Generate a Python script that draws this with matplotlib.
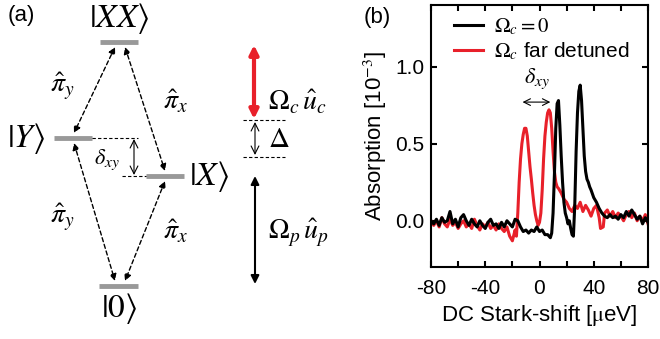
import matplotlib
matplotlib.use("Agg")
import matplotlib.pyplot as plt
from matplotlib.ticker import MultipleLocator, FormatStrFormatter

plt.rcParams["font.family"] = ["Liberation Sans", "DejaVu Sans"]
plt.rcParams["mathtext.fontset"] = "stix"
plt.rcParams["axes.unicode_minus"] = False

_red = "#e8202a"

# Panel (b) data: absorption vs DC Stark shift
shift_black = [-80, -78, -76, -74, -72, -70, -68, -66, -64, -62, -60, -58, -56, -54,
               -52, -50, -48, -46, -44, -42, -40, -38, -36, -34, -32, -30, -28, -26,
               -24, -22, -20, -18, -16, -14, -12, -10, -8, -6, -4, -2, 0, 2, 4, 6, 8,
               9, 10, 11, 12, 13, 14, 15, 16, 17, 18, 19, 20, 21, 22, 23, 24, 25, 26,
               27, 28, 29, 30, 31, 32, 33, 34, 35, 36, 37, 38, 40, 42, 44, 46, 48, 50,
               52, 54, 56, 58, 60, 62, 64, 66, 68, 70, 72, 74, 76, 78, 80]
abs_black = [0.0, -0.02, 0.01, -0.03, 0.02, -0.01, 0.0, 0.06, -0.02, 0.01, -0.04, 0.02,
             0.04, 0.0, -0.03, 0.01, -0.02, -0.04, 0.0, -0.03, -0.05, -0.01, 0.01, -0.03,
             -0.02, -0.05, -0.01, -0.04, 0.0, -0.02, -0.04, 0.01, 0.0, -0.04, -0.07, -0.06,
             -0.08, -0.06, -0.07, -0.04, -0.07, -0.06, -0.09, -0.09, -0.11,
             -0.08, 0.05, 0.3, 0.6, 0.76, 0.78, 0.62, 0.42, 0.25, 0.12, 0.05, 0.02, -0.02,
             0.0, -0.05, -0.09, -0.1, 0.1, 0.45, 0.7, 0.84, 0.88, 0.78, 0.6, 0.42, 0.32,
             0.27, 0.25, 0.22, 0.2, 0.15, 0.12, 0.08, 0.05, 0.03, 0.02, 0.04, 0.02, 0.03,
             0.01, 0.04, 0.02, 0.06, 0.03, 0.07, 0.04, 0.01, 0.03, -0.02, 0.02, -0.01]

shift_red = [-80, -78, -76, -74, -72, -70, -68, -66, -64, -62, -60, -58, -56, -54, -52,
             -50, -48, -46, -44, -42, -40, -38, -36, -34, -32, -30, -28, -26, -24, -22,
             -20, -18, -17, -16, -15, -14, -13, -12, -11, -10, -9, -8, -7, -6, -5, -4,
             -3, -2, -1, 0, 1, 2, 3, 4, 5, 6, 7, 8, 9, 10, 11, 12, 13, 14, 16, 18, 20,
             22, 24, 26, 28, 30, 32, 34, 36, 38, 40, 42, 44, 45, 47, 48, 50, 52, 54, 56,
             58, 60, 62, 64, 66, 68, 70, 72, 74, 76, 78, 80]
abs_red = [0.0, -0.03, 0.0, -0.04, 0.02, -0.02, -0.04, 0.01, -0.03, -0.01, -0.05, -0.02,
           0.0, -0.04, -0.02, -0.05, 0.01, -0.03, -0.06, -0.02, -0.04, -0.01, -0.05, -0.03,
           -0.06, -0.02, -0.05, -0.07, -0.04, -0.1, -0.13, -0.06, -0.1, 0.05, 0.25, 0.4,
           0.5, 0.56, 0.6, 0.6, 0.55, 0.45, 0.35, 0.27, 0.18, 0.1, 0.04, 0.0, -0.03,
           -0.01, 0.05, 0.2, 0.4, 0.55, 0.64, 0.7, 0.72, 0.7, 0.6, 0.45, 0.32, 0.25, 0.22,
           0.21, 0.18, 0.14, 0.12, 0.08, 0.06, 0.1, 0.08, 0.12, 0.06, 0.1, 0.07, 0.03, 0.08,
           0.1, 0.02, -0.05, -0.04, 0.05, 0.07, 0.03, 0.06, 0.02, 0.05, 0.03, 0.0, 0.04,
           0.06, 0.02, 0.05, 0.0, 0.03, 0.0, 0.04, -0.02]

fig = plt.figure(figsize=(6.6, 3.39), dpi=100)

# ---- Panel (a): level scheme, drawn in pixel coordinates ----
ax0 = fig.add_axes([0, 0, 1, 1])
ax0.set_xlim(0, 660)
ax0.set_ylim(339, 0)
ax0.axis("off")

levels = {"XX": (100, 138, 42), "Y": (54, 92, 138), "X": (146, 184, 176), "0": (99, 138, 286)}
for x0, x1, y in levels.values():
    ax0.plot([x0, x1], [y, y], color="#999999", lw=3.5, solid_capstyle="butt")

ket_size = 24
ax0.text(119, 18, r"$|XX\rangle$", fontsize=ket_size, ha="center", va="center")
ax0.text(26, 138, r"$|Y\rangle$", fontsize=ket_size, ha="center", va="center")
ax0.text(209, 176, r"$|X\rangle$", fontsize=ket_size, ha="center", va="center")
ax0.text(119, 309, r"$|0\rangle$", fontsize=ket_size, ha="center", va="center")
ax0.text(8, 16, "(a)", fontsize=16, ha="left", va="center")

dash = dict(arrowstyle="<|-|>", ls=(0, (3, 2)), color="k", lw=1, mutation_scale=10,
            shrinkA=0, shrinkB=0)
for start, end in [((115, 47), (74, 133)), ((125, 47), (165, 171)),
                   ((74, 143), (115, 281)), ((165, 181), (125, 281))]:
    ax0.annotate("", xy=end, xytext=start, arrowprops=dash)

pi_size = 20
ax0.text(62, 86, r"$\hat{\pi}_y$", fontsize=pi_size, ha="center", va="center")
ax0.text(176, 102, r"$\hat{\pi}_x$", fontsize=pi_size, ha="center", va="center")
ax0.text(62, 217, r"$\hat{\pi}_y$", fontsize=pi_size, ha="center", va="center")
ax0.text(176, 232, r"$\hat{\pi}_x$", fontsize=pi_size, ha="center", va="center")

# splitting delta_xy
ax0.plot([92, 138], [138, 138], color="k", lw=0.8, ls=(0, (3, 2)))
ax0.plot([122, 146], [176, 176], color="k", lw=0.8, ls=(0, (3, 2)))
ax0.annotate("", xy=(134, 175), xytext=(134, 139),
             arrowprops=dict(arrowstyle="<->", color="k", lw=0.8, mutation_scale=14,
                             shrinkA=0, shrinkB=0))
ax0.text(107, 160, r"$\delta_{xy}$", fontsize=16, ha="center", va="center")

# laser fields
ax0.annotate("", xy=(254, 119), xytext=(254, 45),
             arrowprops=dict(arrowstyle="<|-|>", color=_red, lw=3, mutation_scale=13,
                             shrinkA=0, shrinkB=0))
ax0.plot([243, 285], [120, 120], color="k", lw=0.8, ls=(0, (3, 2)))
ax0.plot([243, 285], [157, 157], color="k", lw=0.8, ls=(0, (3, 2)))
ax0.annotate("", xy=(255, 155), xytext=(255, 122),
             arrowprops=dict(arrowstyle="<->", color="k", lw=0.8, mutation_scale=14,
                             shrinkA=0, shrinkB=0))
ax0.text(268, 139, r"$\Delta$", fontsize=21, ha="left", va="center")
ax0.text(268, 102, r"$\Omega_c\,\hat{u}_c$", fontsize=20, ha="left", va="center")
ax0.annotate("", xy=(255, 284), xytext=(255, 176),
             arrowprops=dict(arrowstyle="<|-|>", color="k", lw=1.5, mutation_scale=12,
                             shrinkA=0, shrinkB=0))
ax0.text(268, 233, r"$\Omega_p\,\hat{u}_p$", fontsize=20, ha="left", va="center")

# ---- Panel (b): absorption spectra ----
ax1 = fig.add_axes([431 / 660, 1 - 267 / 339, 217 / 660, 262 / 339])
ax1.plot(shift_red, abs_red, color=_red, lw=2.2, label=r"$\Omega_c$ far detuned")
ax1.plot(shift_black, abs_black, color="k", lw=2.2, label=r"$\Omega_c = 0$")

ax1.set_xlim(-80, 80)
ax1.set_ylim(-0.3, 1.4)
ax1.xaxis.set_major_locator(MultipleLocator(40))
ax1.xaxis.set_minor_locator(MultipleLocator(20))
ax1.yaxis.set_major_locator(MultipleLocator(0.5))
ax1.yaxis.set_major_formatter(FormatStrFormatter("%.1f"))
ax1.tick_params(which="both", direction="in", top=True, right=True, length=4, width=1.5,
                labelsize=15)
ax1.tick_params(axis="x", pad=9)
ax1.tick_params(axis="y", pad=5)
for spine in ax1.spines.values():
    spine.set_linewidth(1.5)
ax1.set_xlabel(r"DC Stark-shift [$\mathrm{\mu}$eV]", fontsize=16, labelpad=3)
ax1.set_ylabel(r"Absorption [10$^{-3}$]", fontsize=16, labelpad=4)

handles, labels = ax1.get_legend_handles_labels()
ax1.legend(handles[::-1], labels[::-1], loc="upper left", bbox_to_anchor=(0.02, 1.03),
           frameon=False, fontsize=15, handlelength=1.4, handletextpad=0.5,
           labelspacing=0.2)

ax1.annotate("", xy=(8, 0.77), xytext=(-12.5, 0.77),
             arrowprops=dict(arrowstyle="<->", color="k", lw=0.8, mutation_scale=12,
                             shrinkA=0, shrinkB=0))
ax1.text(-2, 0.92, r"$\delta_{xy}$", fontsize=16, ha="center", va="center")

fig.text(364 / 660, 1 - 17 / 339, "(b)", fontsize=16, ha="left", va="center")

fig.savefig("out.png", dpi=100)
